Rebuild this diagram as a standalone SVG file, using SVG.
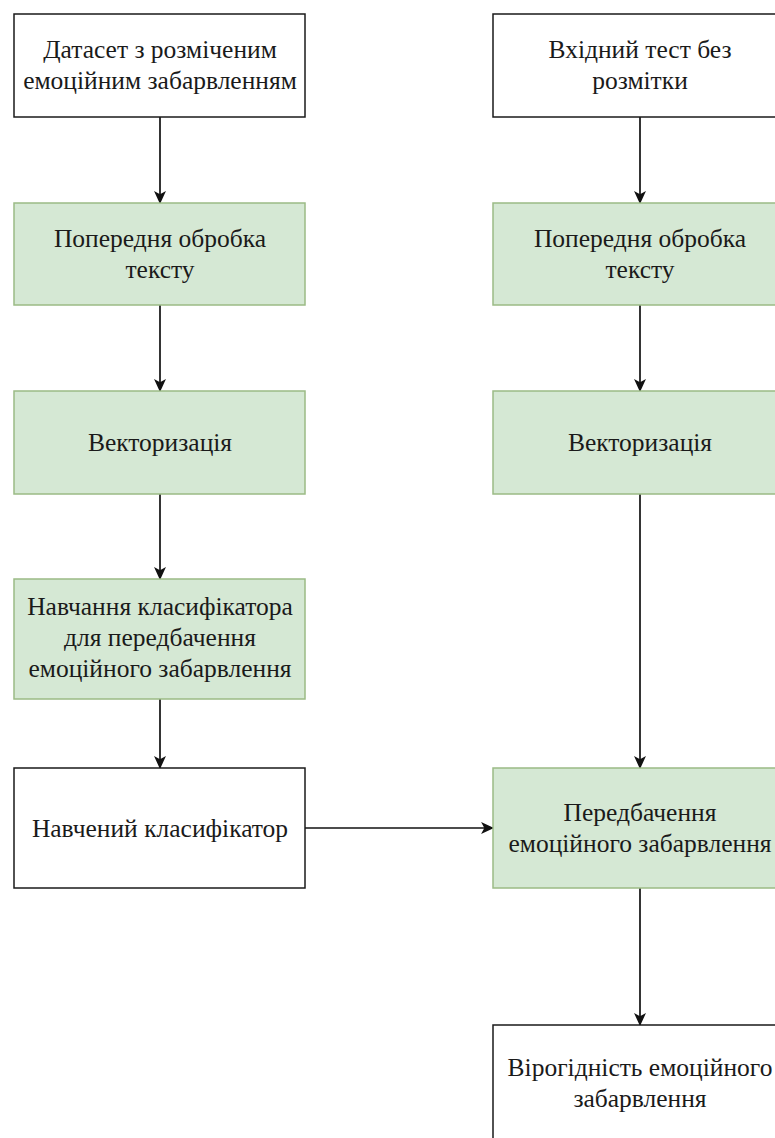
<svg xmlns="http://www.w3.org/2000/svg" width="775" height="1138" viewBox="0 0 775 1138">
<defs>
<style>
.w{fill:#ffffff;stroke:#1a1a1a;stroke-width:1.5}
.g{fill:#d5e8d4;stroke:#9bbb85;stroke-width:1.5}
text{font-family:"Liberation Serif","Times New Roman",serif;font-size:25.5px;fill:#1a1a1a;text-anchor:middle}
.e{stroke:#111;stroke-width:1.7;fill:none}
</style>
<marker id="ar" viewBox="0 0 12 12" refX="11" refY="6" markerWidth="13" markerHeight="13" markerUnits="userSpaceOnUse" orient="auto">
<path d="M0,0.5 L12,6 L0,11.5 L3,6 Z" fill="#111"/>
</marker>
</defs>
<rect width="775" height="1138" fill="#ffffff"/>
<g id="edges">
<line class="e" x1="160" y1="117" x2="160" y2="203" marker-end="url(#ar)"/>
<line class="e" x1="160" y1="305" x2="160" y2="391" marker-end="url(#ar)"/>
<line class="e" x1="160" y1="494" x2="160" y2="579" marker-end="url(#ar)"/>
<line class="e" x1="160" y1="699" x2="160" y2="768" marker-end="url(#ar)"/>
<line class="e" x1="640" y1="117" x2="640" y2="203" marker-end="url(#ar)"/>
<line class="e" x1="640" y1="305" x2="640" y2="391" marker-end="url(#ar)"/>
<line class="e" x1="640" y1="494" x2="640" y2="768" marker-end="url(#ar)"/>
<line class="e" x1="305" y1="828" x2="493" y2="828" marker-end="url(#ar)"/>
<line class="e" x1="640" y1="888" x2="640" y2="1025" marker-end="url(#ar)"/>
</g>
<g id="n1"><rect class="w" x="14" y="14" width="291" height="103"/><text x="160" y="58">Датасет з розміченим</text><text x="160" y="89">емоційним забарвленням</text></g>
<g id="n2"><rect class="g" x="14" y="203" width="291" height="102"/><text x="160" y="247">Попередня обробка</text><text x="160" y="278">тексту</text></g>
<g id="n3"><rect class="g" x="14" y="391" width="291" height="103"/><text x="160" y="451">Векторизація</text></g>
<g id="n4"><rect class="g" x="14" y="579" width="291" height="120"/><text x="160" y="615">Навчання класифікатора</text><text x="160" y="646">для передбачення</text><text x="160" y="677">емоційного забарвлення</text></g>
<g id="n5"><rect class="w" x="14" y="768" width="291" height="120"/><text x="160" y="837">Навчений класифікатор</text></g>
<g id="r1"><rect class="w" x="493" y="14" width="294" height="103"/><text x="640" y="58">Вхідний тест без</text><text x="640" y="89">розмітки</text></g>
<g id="r2"><rect class="g" x="493" y="203" width="294" height="102"/><text x="640" y="247">Попередня обробка</text><text x="640" y="278">тексту</text></g>
<g id="r3"><rect class="g" x="493" y="391" width="294" height="103"/><text x="640" y="451">Векторизація</text></g>
<g id="r4"><rect class="g" x="493" y="768" width="294" height="120"/><text x="640" y="821">Передбачення</text><text x="640" y="852">емоційного забарвлення</text></g>
<g id="r5"><rect class="w" x="493" y="1025" width="294" height="120"/><text x="640" y="1076">Вірогідність емоційного</text><text x="640" y="1107">забарвлення</text></g>
</svg>
